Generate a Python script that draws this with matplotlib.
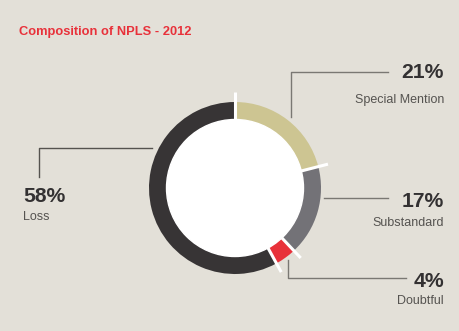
import numpy as np
import matplotlib
matplotlib.use("Agg")
import matplotlib.pyplot as plt

plt.rcParams['font.family'] = ['Liberation Sans', 'DejaVu Sans']

categories = ['Special Mention', 'Substandard', 'Doubtful', 'Loss']
shares = [21, 17, 4, 58]
colors = ['#cdc592', '#737277', '#e8313a', '#373435']

W, H = 460, 331
bg = '#e3e0d8'

fig = plt.figure(figsize=(W / 100, H / 100), dpi=100)
fig.patch.set_facecolor(bg)
ax = fig.add_axes([0, 0, 1, 1])

cx, cy = 235, H - 188
r_out, r_in = 86, 68

ax.pie(shares, colors=colors, startangle=90, counterclock=False,
       radius=r_out, center=(cx, cy), frame=True,
       wedgeprops=dict(width=r_out - r_in, linewidth=0))
ax.set_xlim(0, W)
ax.set_ylim(0, H)
ax.set_aspect('equal')
ax.axis('off')
ax.add_patch(plt.Circle((cx, cy), r_in + 0.5, color='white', zorder=3))

# white separators at slice boundaries
cum = np.cumsum([0] + shares[:-1])
for c in cum:
    ang = np.deg2rad(90 - c / sum(shares) * 360)
    ax.plot([cx + r_in * np.cos(ang), cx + 96 * np.cos(ang)],
            [cy + r_in * np.sin(ang), cy + 96 * np.sin(ang)],
            color='white', lw=2.2, zorder=4, solid_capstyle='butt')

line_c = '#7a7873'
def leader(xs, ys, c=line_c):
    ax.plot(xs, [H - y for y in ys], color=c, lw=1.0, zorder=2)

leader([291, 291, 388], [117, 72, 72])
leader([324, 388], [198, 198])
leader([288, 288, 406], [260, 278, 278])
leader([152, 39, 39], [148, 148, 177], c='#55534f')

num_c = '#333132'
lab_c = '#555350'
# (x, baseline of number, baseline of name, alignment)
label_pos = [(444, 78, 103, 'right'), (444, 207, 226, 'right'),
             (444, 287, 304, 'right'), (23, 202, 220, 'left')]
for name, val, (x, y1, y2, ha) in zip(categories, shares, label_pos):
    ax.text(x, H - y1, f'{val}%', ha=ha, va='baseline', fontsize=15.2,
            fontweight='bold', color=num_c)
    ax.text(x, H - y2, name, ha=ha, va='baseline', fontsize=9, color=lab_c)

ax.text(19, H - 32, 'Composition of NPLS - 2012', ha='left', va='center',
        fontsize=9.3, fontweight='bold', color='#e8313a')

fig.savefig('out.png', dpi=100, facecolor=bg)
